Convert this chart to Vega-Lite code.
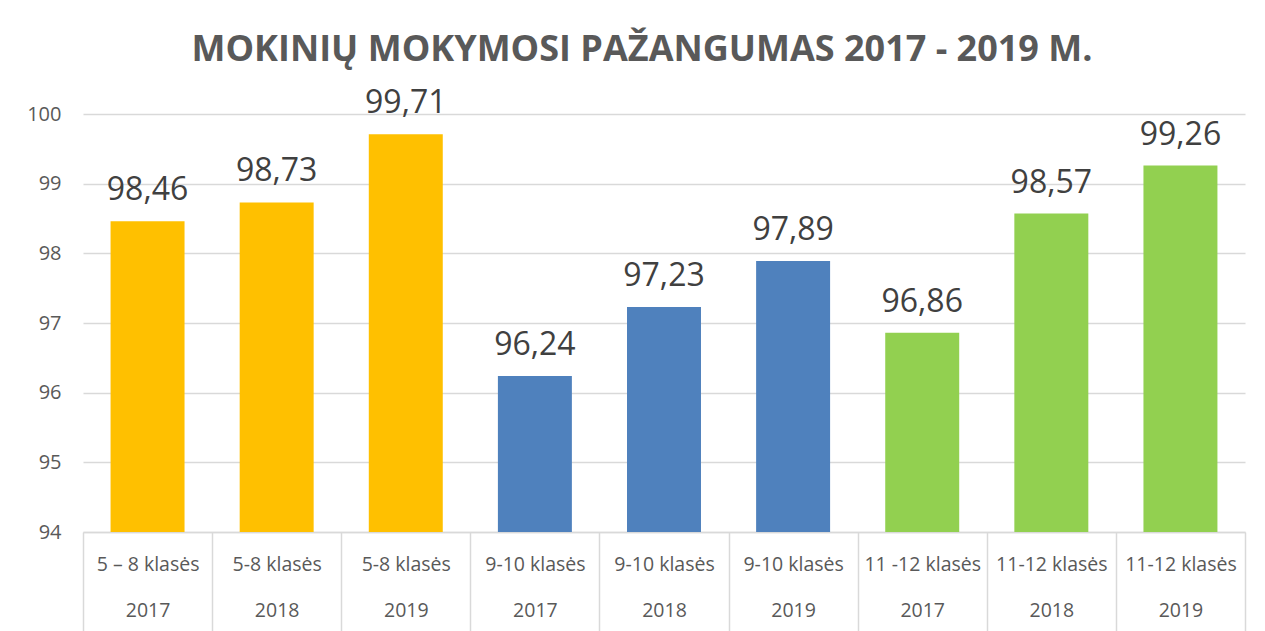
{
  "$schema": "https://vega.github.io/schema/vega-lite/v6.json",
  "width": 1162,
  "height": 418,
  "autosize": {"type": "none"},
  "padding": {"left": 83, "top": 114, "right": 20, "bottom": 99},
  "background": "white",
  "config": {
    "locale": {"number": {"decimal": ",", "thousands": " ", "grouping": [3], "currency": ["", " €"]}},
    "view": {"stroke": null},
    "font": "Open Sans"
  },
  "title": {
    "text": "MOKINIŲ MOKYMOSI PAŽANGUMAS 2017 - 2019 M.",
    "font": "Open Sans",
    "fontSize": 36,
    "fontWeight": "bold",
    "color": "#595959",
    "anchor": "middle",
    "dx": -22,
    "offset": 18
  },
  "data": {
    "values": [
      {"kat": "5 – 8 klasės|2017", "grupe": "5-8", "value": 98.46},
      {"kat": "5-8 klasės|2018", "grupe": "5-8", "value": 98.73},
      {"kat": "5-8 klasės|2019", "grupe": "5-8", "value": 99.71},
      {"kat": "9-10 klasės|2017", "grupe": "9-10", "value": 96.24},
      {"kat": "9-10 klasės|2018", "grupe": "9-10", "value": 97.23},
      {"kat": "9-10 klasės|2019", "grupe": "9-10", "value": 97.89},
      {"kat": "11 -12 klasės|2017", "grupe": "11-12", "value": 96.86},
      {"kat": "11-12 klasės|2018", "grupe": "11-12", "value": 98.57},
      {"kat": "11-12 klasės|2019", "grupe": "11-12", "value": 99.26}
    ]
  },
  "encoding": {
    "x": {
      "field": "kat",
      "type": "nominal",
      "sort": null,
      "scale": {"paddingInner": 0, "paddingOuter": 0},
      "axis": {
        "title": null,
        "labelAngle": 0,
        "labelExpr": "datum.value ? split(datum.value, '|') : ''",
        "labelFont": "Open Sans",
        "labelFontSize": 19.5,
        "labelColor": "#595959",
        "labelLineHeight": 46,
        "labelPadding": -77,
        "labelBaseline": "top",
        "labelOverlap": false,
        "labelBound": false,
        "domainColor": "#d9d9d9",
        "domainWidth": 1.5,
        "tickBand": "extent",
        "tickColor": "#d9d9d9",
        "tickWidth": 1.5,
        "tickSize": 100
      }
    },
    "y": {
      "field": "value",
      "type": "quantitative",
      "scale": {"domain": [94, 100], "nice": false, "zero": false},
      "axis": {
        "title": null,
        "values": [94, 95, 96, 97, 98, 99, 100],
        "domain": false,
        "ticks": false,
        "labelFont": "Open Sans",
        "labelFontSize": 20,
        "labelColor": "#595959",
        "labelPadding": 22,
        "gridColor": "#d9d9d9",
        "gridWidth": 1.5
      }
    }
  },
  "layer": [
    {
      "mark": {"type": "bar", "clip": true, "width": {"band": 0.573}},
      "encoding": {
        "color": {
          "field": "grupe",
          "type": "nominal",
          "scale": {"domain": ["5-8", "9-10", "11-12"], "range": ["#FFC000", "#4F81BD", "#92D050"]},
          "legend": null
        }
      }
    },
    {
      "mark": {"type": "text", "baseline": "alphabetic", "dy": -21, "font": "Open Sans", "fontSize": 32, "color": "#404040"},
      "encoding": {
        "text": {"field": "value", "type": "quantitative", "format": ".2f"}
      }
    }
  ]
}
